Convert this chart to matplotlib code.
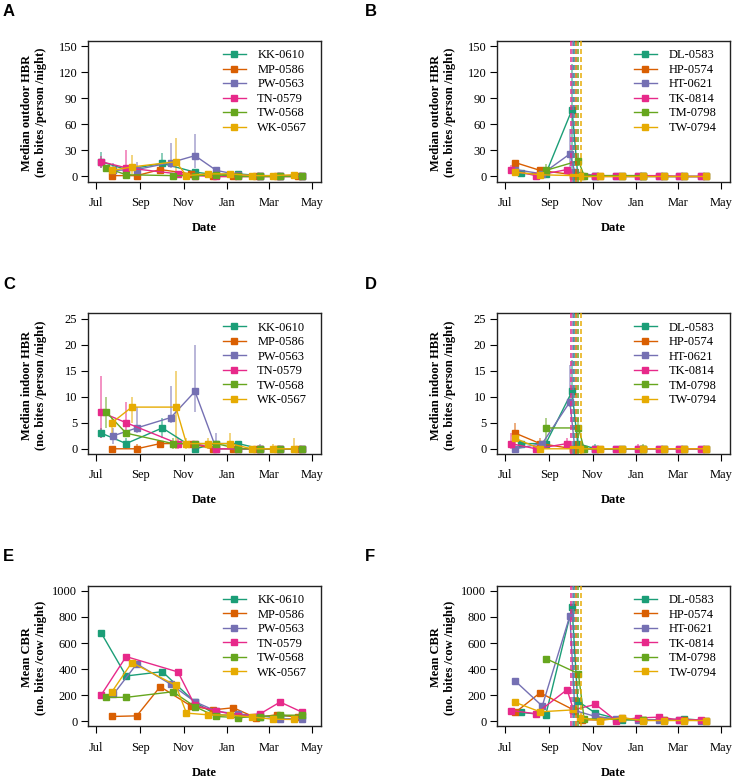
import matplotlib
matplotlib.use("Agg")
import matplotlib.pyplot as plt
import pandas as pd

# ---------------- data ----------------
sites1 = ["KK-0610", "MP-0586", "PW-0563", "TN-0579", "TW-0568", "WK-0567"]
sites2 = ["DL-0583", "HP-0574", "HT-0621", "TK-0814", "TM-0798", "TW-0794"]
colors = ["#1B9E77", "#D95F02", "#7570B3", "#E7298A", "#66A61E", "#E6AB02"]

dates1 = {
    "KK-0610": ["2018-07-08", "2018-08-12", "2018-10-02", "2018-11-17", "2018-12-17", "2019-01-17", "2019-02-17", "2019-03-17", "2019-04-17"],
    "MP-0586": ["2018-07-23", "2018-08-27", "2018-09-29", "2018-11-11", "2018-12-12", "2019-01-10", "2019-02-11", "2019-03-13", "2019-04-11"],
    "PW-0563": ["2018-07-25", "2018-08-27", "2018-10-14", "2018-11-17", "2018-12-17", "2019-01-17", "2019-02-17", "2019-03-17", "2019-04-17"],
    "TN-0579": ["2018-07-08", "2018-08-12", "2018-10-24", "2018-11-17", "2018-12-17", "2019-01-17", "2019-02-17", "2019-03-17", "2019-04-17"],
    "TW-0568": ["2018-07-15", "2018-08-12", "2018-10-17", "2018-11-17", "2018-12-17", "2019-01-17", "2019-02-17", "2019-03-17", "2019-04-17"],
    "WK-0567": ["2018-07-23", "2018-08-20", "2018-10-21", "2018-11-05", "2018-12-05", "2019-01-05", "2019-02-05", "2019-03-07", "2019-04-05"],
}
outdoor1 = {
    "KK-0610": [17, 8, 15, 5, 2, 3, 1, 1, 0],
    "MP-0586": [1, 1, 8, 3, 0, 0, 0, 0, 0],
    "PW-0563": [7, 8, 16, 24, 7, 2, 1, 0, 1],
    "TN-0579": [17, 10, 3, 1, 0, 0, 0, 0, 0],
    "TW-0568": [10, 2, 1, 1, 2, 0, 0, 0, 0],
    "WK-0567": [7, 11, 17, 1, 3, 3, 1, 1, 2],
}
outdoor1_err = {
    "KK-0610": [("2018-07-08", 10, 28), ("2018-10-02", 5, 27)],
    "PW-0563": [("2018-07-25", 2, 15), ("2018-08-27", 5, 17), ("2018-10-14", 10, 39), ("2018-11-17", 10, 49), ("2018-12-17", 5, 10)],
    "TN-0579": [("2018-07-08", 10, 24), ("2018-08-12", 2, 31)],
    "WK-0567": [("2018-08-20", 3, 25), ("2018-10-21", 5, 44)],
}
indoor1 = {
    "KK-0610": [3, 1, 4, 0, 1, 1, 0, 0, 0],
    "MP-0586": [0, 0, 1, 1, 0, 0, 0, 0, 0],
    "PW-0563": [2.5, 4, 6, 11, 0, 0, 0, 0, 0],
    "TN-0579": [7, 5, 1, 1, 0, 0, 0, 0, 0],
    "TW-0568": [7, 3, 1, 1, 1, 0, 0, 0, 0],
    "WK-0567": [5, 8, 8, 1, 1, 1, 0, 0, 0],
}
indoor1_err = {
    "KK-0610": [("2018-07-08", 2, 4), ("2018-08-12", 0, 2), ("2018-10-02", 2, 6)],
    "MP-0586": [("2018-08-27", 0, 1)],
    "PW-0563": [("2018-07-25", 1, 4), ("2018-08-27", 3, 8), ("2018-10-14", 5, 12), ("2018-11-17", 7, 20), ("2018-12-17", 0, 3), ("2019-02-17", 0, 1)],
    "TN-0579": [("2018-07-08", 2, 14), ("2018-08-12", 3, 9), ("2018-10-24", 0, 2)],
    "TW-0568": [("2018-07-15", 4, 10), ("2018-10-17", 0, 2)],
    "WK-0567": [("2018-07-23", 3, 6), ("2018-08-20", 5, 10), ("2018-10-21", 0, 15), ("2018-11-05", 0, 2), ("2018-12-05", 0, 2), ("2019-01-05", 0, 3), ("2019-03-07", 0, 1), ("2019-04-05", 0, 2)],
}
cbr1 = {
    "KK-0610": [676, 347, 380, 146, 49, 44, 35, 40, 40],
    "MP-0586": [36, 41, 265, 118, 87, 103, 26, 51, 31],
    "PW-0563": [206, 440, 283, 149, 77, 54, 44, 18, 20],
    "TN-0579": [203, 496, 378, 121, 80, 41, 57, 147, 69],
    "TW-0568": [183, 183, 226, 111, 36, 28, 35, 46, 46],
    "WK-0567": [226, 450, 275, 62, 49, 46, 33, 15, 13],
}

dates2 = {
    "DL-0583": ["2018-07-23", "2018-08-27", "2018-10-03", "2018-10-11", "2018-11-05", "2018-12-12", "2019-01-11", "2019-02-10", "2019-03-10", "2019-04-10"],
    "HP-0574": ["2018-07-15", "2018-08-19", "2018-10-05", "2018-10-17", "2018-11-11", "2018-12-12", "2019-01-11", "2019-02-10", "2019-03-10", "2019-04-10"],
    "HT-0621": ["2018-07-15", "2018-08-22", "2018-09-30", "2018-10-07", "2018-11-05", "2018-12-04", "2019-01-04", "2019-02-03", "2019-03-03", "2019-04-03"],
    "TK-0814": ["2018-07-09", "2018-08-13", "2018-09-26", "2018-10-05", "2018-11-05", "2018-12-04", "2019-01-04", "2019-02-03", "2019-03-03", "2019-04-03"],
    "TM-0798": ["2018-08-27", "2018-10-12", "2018-10-20", "2019-01-11"],
    "TW-0794": ["2018-07-15", "2018-08-19", "2018-10-05", "2018-10-14", "2018-11-11", "2018-12-12", "2019-01-11", "2019-02-10", "2019-03-10", "2019-04-10"],
}
outdoor2 = {
    "DL-0583": [3.5, 3, 77, 2, 1, 0, 1, 0, 0, 0],
    "HP-0574": [16, 7, 2, 0, 0, 0, 0, 0, 0, 0],
    "HT-0621": [8, 3, 26, 5, 1, 0, 0, 0, 0, 0],
    "TK-0814": [7, 1, 8, 2, 1, 1, 1, 1, 0, 0],
    "TM-0798": [7, 18, 1, 1],
    "TW-0794": [5, 2, 1, 0, 0, 0, 0, 0, 0, 0],
}
outdoor2_err = {
    "DL-0583": [("2018-10-03", 5, 130)],
    "HT-0621": [("2018-09-30", 10, 55)],
    "TK-0814": [("2018-07-09", 3, 13)],
    "TM-0798": [("2018-08-27", 2, 14)],
}
indoor2 = {
    "DL-0583": [1, 1, 11, 1, 0, 0, 0, 0, 0, 0],
    "HP-0574": [3, 1, 0, 0, 0, 0, 0, 0, 0, 0],
    "HT-0621": [0, 1, 9, 0, 0, 0, 0, 0, 0, 0],
    "TK-0814": [1, 0, 1, 0, 0, 0, 0, 0, 0, 0],
    "TM-0798": [4, 4, 0, 0],
    "TW-0794": [2, 0, 0, 0, 0, 0, 0, 0, 0, 0],
}
indoor2_err = {
    "DL-0583": [("2018-10-03", 8, 17), ("2018-10-11", 0, 3), ("2018-11-05", 0, 1)],
    "HP-0574": [("2018-07-15", 0, 5), ("2018-08-19", 0, 2)],
    "HT-0621": [("2018-08-22", 0, 1), ("2018-09-30", 8, 16)],
    "TK-0814": [("2018-07-09", 0, 3), ("2018-09-26", 0, 2), ("2019-01-04", 0, 1)],
    "TM-0798": [("2018-08-27", 1, 6), ("2018-10-12", 2, 6), ("2019-01-11", 0, 1)],
}
cbr2 = {
    "DL-0583": [67, 49, 874, 154, 62, 10, 10, 10, 18, 5],
    "HP-0574": [67, 218, 87, 10, 10, 25, 10, 10, 10, 5],
    "HT-0621": [308, 116, 810, 82, 36, 18, 10, 10, 10, 5],
    "TK-0814": [82, 57, 242, 87, 129, 5, 25, 31, 10, 10],
    "TM-0798": [481, 365, 18, 10],
    "TW-0794": [144, 72, 87, 26, 5, 26, 5, 5, 5, 5],
}
spray_dates = {
    "TK-0814": "2018-10-02", "HT-0621": "2018-10-04", "DL-0583": "2018-10-06",
    "HP-0574": "2018-10-09", "TM-0798": "2018-10-12", "TW-0794": "2018-10-15",
}
month_ticks = ["2018-07-01", "2018-09-01", "2018-11-01", "2019-01-01", "2019-03-01", "2019-05-01"]
month_labels = ["Jul", "Sep", "Nov", "Jan", "Mar", "May"]

# ---------------- layout ----------------
W, H = 732, 781
SERIF = "Liberation Serif"
plt.rcParams["font.family"] = [SERIF, "DejaVu Serif"]
fig = plt.figure(figsize=(W / 100, H / 100), dpi=100)

col_left = [87.7, 496.7]
ax_w = 233.0
ax_h = 140.7
row_top = [41.0, 313.3, 585.7]


def make_ax(row, col):
    l = col_left[col]
    t = row_top[row]
    return fig.add_axes([l / W, 1 - (t + ax_h) / H, ax_w / W, ax_h / H])


def draw(ax, sites, dates, vals, errs, ymax, ystep, ylabel, sprays=None):
    for i, s in enumerate(sites):
        c = colors[i]
        for (d, lo, hi) in errs.get(s, []):
            ax.vlines(pd.Timestamp(d), lo, hi, color=c, alpha=0.55, lw=1.3, zorder=2)
        ax.plot(pd.to_datetime(dates[s]), vals[s], color=c, lw=1.0, marker="s",
                ms=4.7, label=s, zorder=3)
    if sprays:
        for i, s in enumerate(sites):
            if s in sprays:
                ax.axvline(pd.Timestamp(sprays[s]), color=colors[i], lw=1.2,
                           ls=(0, (3, 1.8)), zorder=4, alpha=0.9)
    x0 = pd.Timestamp("2018-07-01")
    x1 = pd.Timestamp("2019-05-01")
    pad = (x1 - x0) * 0.04
    ax.set_xlim(x0 - pad, x1 + pad)
    ax.set_ylim(-0.04 * ymax, 1.04 * ymax)
    ax.set_xticks(pd.to_datetime(month_ticks))
    ax.set_xticklabels(month_labels)
    yt = list(range(0, ymax + 1, ystep))
    ax.set_yticks(yt)
    ax.set_yticklabels([str(v) for v in yt])
    ax.tick_params(axis="x", direction="out", length=5, width=0.8, labelsize=9, pad=6)
    ax.tick_params(axis="y", direction="out", length=5, width=0.8, labelsize=9, pad=2.5)
    for sp in ax.spines.values():
        sp.set_linewidth(1.0)
        sp.set_color("#222222")
    ax.text(-0.232, 0.49, ylabel, transform=ax.transAxes, rotation=90,
            ha="center", va="center", fontsize=9, fontweight="bold",
            linespacing=1.25)
    ax.text(0.5, -0.33, "Date", transform=ax.transAxes, ha="center", va="center",
            fontsize=9, fontweight="bold")
    ax.legend(loc="upper right", bbox_to_anchor=(0.942, 0.94), frameon=False,
              fontsize=9, handlelength=1.85, handletextpad=0.9,
              labelspacing=0.2, borderaxespad=0, borderpad=0)


panels = [
    (0, 0, "A", sites1, dates1, outdoor1, outdoor1_err, 150, 30,
     "Median outdoor HBR\n(no. bites /person /night)", None),
    (0, 1, "B", sites2, dates2, outdoor2, outdoor2_err, 150, 30,
     "Median outdoor HBR\n(no. bites /person /night)", spray_dates),
    (1, 0, "C", sites1, dates1, indoor1, indoor1_err, 25, 5,
     "Median indoor HBR\n(no. bites /person /night)", None),
    (1, 1, "D", sites2, dates2, indoor2, indoor2_err, 25, 5,
     "Median indoor HBR\n(no. bites /person /night)", spray_dates),
    (2, 0, "E", sites1, dates1, cbr1, {}, 1000, 200,
     "Mean CBR\n(no. bites /cow /night)", None),
    (2, 1, "F", sites2, dates2, cbr2, {}, 1000, 200,
     "Mean CBR\n(no. bites /cow /night)", spray_dates),
]

letter_x = [3.0, 365.0]
for row, col, letter, sites, dates, vals, errs, ymax, ystep, ylabel, sprays in panels:
    ax = make_ax(row, col)
    draw(ax, sites, dates, vals, errs, ymax, ystep, ylabel, sprays)
    fig.text(letter_x[col] / W, 1 - (row_top[row] - 29) / H, letter,
             family="Liberation Sans", fontweight="bold", fontsize=12,
             ha="left", va="center")

fig.savefig("out.png", dpi=100)
